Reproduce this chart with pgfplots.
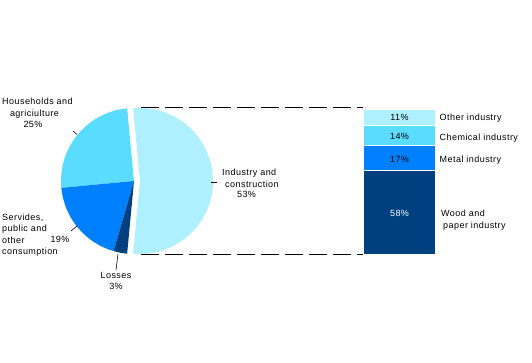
\documentclass[border=0pt]{standalone}
\usepackage{pgfplots}
\pgfplotsset{compat=1.18}
\usepackage{fontspec}
\setmainfont[LetterSpace=5]{Liberation Sans}
\definecolor{cInd}{RGB}{175,240,255}
\definecolor{cHh}{RGB}{90,220,255}
\definecolor{cSv}{RGB}{0,128,255}
\definecolor{cLs}{RGB}{0,64,128}
% pie shares (%)
\def\vInd{53}\def\vHh{25}\def\vSv{19}\def\vLs{3}
\pgfmathsetmacro\aA{-\vInd*1.8}
\pgfmathsetmacro\aB{\vInd*1.8}
\pgfmathsetmacro\aC{\aB+\vHh*3.6}
\pgfmathsetmacro\aD{\aC+\vSv*3.6}
\pgfmathsetmacro\aE{\aD+\vLs*3.6}
\begin{document}
\begin{tikzpicture}[every node/.style={font=\fontsize{9}{11}\selectfont, inner sep=0pt}]
\path[use as bounding box] (0,0) rectangle (532pt,362pt);
\begin{axis}[
  at={(363pt,108pt)}, anchor=south west,
  scale only axis, width=72pt, height=145pt,
  xmin=-0.5, xmax=0.5, ymin=0, ymax=100,
  hide axis, clip=false,
  ybar stacked, bar width=72pt]
\addplot[fill=cLs, draw=white, line width=0.6pt] coordinates {(0,58)};
\addplot[fill=cSv, draw=white, line width=0.6pt] coordinates {(0,17)};
\addplot[fill=cHh, draw=white, line width=0.6pt] coordinates {(0,14)};
\addplot[fill=cInd, draw=white, line width=0.6pt] coordinates {(0,11)};
\end{axis}
\begin{axis}[
  name=main, at={(0,0)}, anchor=south west,
  scale only axis, width=532pt, height=362pt,
  xmin=0, xmax=532, ymin=0, ymax=362, y dir=reverse,
  hide axis, clip=false]
% pie slices
\fill[cInd] (axis cs:140,181) -- ++(\aA:73pt) arc[start angle=\aA, end angle=\aB, radius=73pt] -- cycle;
\fill[cHh] (axis cs:134,181) -- ++(\aB:73pt) arc[start angle=\aB, end angle=\aC, radius=73pt] -- cycle;
\fill[cSv] (axis cs:134,181) -- ++(\aC:73pt) arc[start angle=\aC, end angle=\aD, radius=73pt] -- cycle;
\fill[cLs] (axis cs:134,181) -- ++(\aD:73pt) arc[start angle=\aD, end angle=\aE, radius=73pt] -- cycle;
% connector dashed lines
\addplot[black, line width=0.8pt, dash pattern=on 18pt off 6pt] coordinates {(141,107.5) (363,107.5)};
\addplot[black, line width=0.8pt, dash pattern=on 18pt off 6pt] coordinates {(141,254) (363,254)};
% leader lines
\addplot[black, line width=0.6pt] coordinates {(73,131) (77,134.5)};
\addplot[black, line width=0.6pt] coordinates {(71,231) (77,226)};
\addplot[black, line width=0.6pt] coordinates {(116,270) (118,254)};
\addplot[black, line width=0.6pt] coordinates {(211,182) (217,182)};
% pie labels
\node[anchor=base west] at (axis cs:2,104.5) {Households and};
\node[anchor=base] at (axis cs:34.5,116.5) {agriciulture};
\node[anchor=base] at (axis cs:33,127.5) {25\%};
\node[anchor=base west] at (axis cs:2,220) {Servides,};
\node[anchor=base west] at (axis cs:2,231.5) {public and};
\node[anchor=base west] at (axis cs:2,243) {other};
\node[anchor=base west] at (axis cs:2,254.5) {consumption};
\node[anchor=base] at (axis cs:60,242.5) {19\%};
\node[anchor=base] at (axis cs:116,278) {Losses};
\node[anchor=base] at (axis cs:116,289.5) {3\%};
\node[anchor=base west] at (axis cs:222,175.5) {Industry and};
\node[anchor=base west] at (axis cs:225,187) {construction};
\node[anchor=base] at (axis cs:246.5,197.5) {53\%};
% bar labels
\node[anchor=base] at (axis cs:399.5,120.5) {11\%};
\node[anchor=base] at (axis cs:399.5,139) {14\%};
\node[anchor=base] at (axis cs:399.5,162.5) {17\%};
\node[anchor=base, text=white] at (axis cs:399.5,216.5) {58\%};
\node[anchor=base west] at (axis cs:439.5,120.5) {Other industry};
\node[anchor=base west] at (axis cs:439.5,140) {Chemical industry};
\node[anchor=base west] at (axis cs:439.5,162.5) {Metal industry};
\node[anchor=base west] at (axis cs:441,216.5) {Wood and};
\node[anchor=base west] at (axis cs:443,228.5) {paper industry};
\end{axis}
\end{tikzpicture}
\end{document}
